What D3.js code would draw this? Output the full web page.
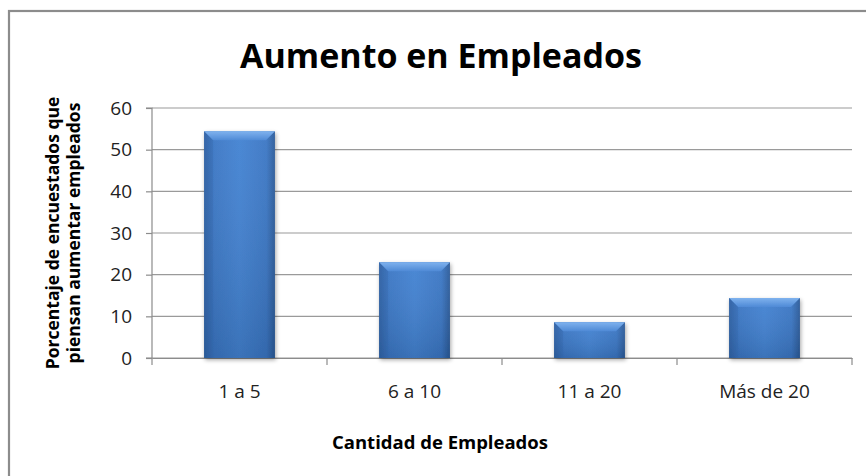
<!DOCTYPE html>
<html><head><meta charset="utf-8">
<script src="https://cdn.jsdelivr.net/npm/d3@7"></script>
<style>body{margin:0;background:#fff}svg{display:block}</style>
</head><body>
<script>
const categories = ["1 a 5", "6 a 10", "11 a 20", "Más de 20"];
const values = [54.4, 23.0, 8.6, 14.4];
const yTicks = [0, 10, 20, 30, 40, 50, 60];
const title = "Aumento en Empleados";
const xTitle = "Cantidad de Empleados";
const yTitle = ["Porcentaje de encuestados que", "piensan aumentar empleados"];

const W = 866, H = 476;
const m = {left: 152, right: 14, top: 108, bottom: 118};
const svg = d3.select("body").append("svg").attr("width", W).attr("height", H);
const defs = svg.append("defs");
const g1 = defs.append("linearGradient").attr("id","gb").attr("x1","0").attr("x2","1").attr("y1","0").attr("y2","0");
g1.append("stop").attr("offset","0%").attr("stop-color","#2f62a6");
g1.append("stop").attr("offset","12%").attr("stop-color","#3a76c4");
g1.append("stop").attr("offset","50%").attr("stop-color","#4282d2");
g1.append("stop").attr("offset","88%").attr("stop-color","#3a76c4");
g1.append("stop").attr("offset","100%").attr("stop-color","#2a5a99");
const g2 = defs.append("linearGradient").attr("id","gv").attr("x1","0").attr("x2","0").attr("y1","0").attr("y2","1");
g2.append("stop").attr("offset","0%").attr("stop-color","#ffffff").attr("stop-opacity",0.05);
g2.append("stop").attr("offset","100%").attr("stop-color","#000000").attr("stop-opacity",0.12);
const g3 = defs.append("linearGradient").attr("id","gt").attr("x1","0").attr("x2","0").attr("y1","0").attr("y2","1");
g3.append("stop").attr("offset","0%").attr("stop-color","#7fb2ee");
g3.append("stop").attr("offset","100%").attr("stop-color","#4f8ad6");
const f = defs.append("filter").attr("id","sh").attr("x","-20%").attr("y","-20%").attr("width","140%").attr("height","140%");
f.append("feGaussianBlur").attr("in","SourceAlpha").attr("stdDeviation",2);
f.append("feOffset").attr("dx",1).attr("dy",2).attr("result","b");
f.append("feComponentTransfer").append("feFuncA").attr("type","linear").attr("slope",0.35);
const fm = f.append("feMerge"); fm.append("feMergeNode"); fm.append("feMergeNode").attr("in","SourceGraphic");

// chart border
svg.append("rect").attr("x",9).attr("y",11).attr("width",W+20).attr("height",H+20)
  .attr("fill","#fff").attr("stroke","#8c8c8c").attr("stroke-width",2.2);

const x = d3.scaleBand().domain(categories).range([m.left, W - m.right]).paddingInner(0.595).paddingOuter(0.2975);
const xT = d3.scaleBand().domain(categories).range([m.left, W - m.right]);
const y = d3.scaleLinear().domain([0, 60]).range([H - m.bottom, m.top]);

// gridlines
svg.append("g").selectAll("line").data(yTicks).join("line")
  .attr("x1", m.left).attr("x2", W - m.right)
  .attr("y1", d => y(d)).attr("y2", d => y(d))
  .attr("stroke", "#9a9a9a").attr("stroke-width", 1.2);

// y axis
const ya = svg.append("g").attr("transform", `translate(${m.left},0)`)
  .call(d3.axisLeft(y).tickValues(yTicks).tickSize(6).tickPadding(14));
ya.select(".domain").attr("stroke","#8c8c8c").attr("stroke-width",1.2).attr("d", `M-6,${y(0)}H0V${y(60)}H-6`);
ya.selectAll(".tick line").attr("stroke","#8c8c8c").attr("stroke-width",1.2);
ya.selectAll("text").attr("font-family","'Open Sans', sans-serif").attr("font-size",19).attr("fill","#222");

// x axis
const xa = svg.append("g").attr("transform", `translate(0,${y(0)})`)
  .call(d3.axisBottom(xT).tickSize(0).tickPadding(27));
xa.select(".domain").attr("stroke","#8c8c8c").attr("stroke-width",1.2);
xa.selectAll("text").attr("font-family","'Open Sans', sans-serif").attr("font-size",19).attr("fill","#222");
svg.append("g").selectAll("line").data(d3.range(categories.length + 1)).join("line")
  .attr("x1", i => m.left + i * xT.step()).attr("x2", i => m.left + i * xT.step())
  .attr("y1", y(0)).attr("y2", y(0) + 7).attr("stroke","#8c8c8c").attr("stroke-width",1.2);

// bars
const bars = svg.append("g").selectAll("g").data(values).join("g")
  .attr("filter","url(#sh)");
bars.append("rect")
  .attr("x", (d,i) => x(categories[i])).attr("width", x.bandwidth())
  .attr("y", d => y(d)).attr("height", d => y(0) - y(d))
  .attr("fill","url(#gb)");
bars.append("rect")
  .attr("x", (d,i) => x(categories[i])).attr("width", x.bandwidth())
  .attr("y", d => y(d)).attr("height", d => y(0) - y(d))
  .attr("fill","url(#gv)");
bars.append("path")
  .attr("d", (d,i) => {
    const x0 = x(categories[i]), w = x.bandwidth(), t = y(d), b = 9;
    return `M${x0},${t}H${x0+w}L${x0+w-b},${t+b}H${x0+b}Z`;
  }).attr("fill","url(#gt)");
bars.append("path")
  .attr("d", (d,i) => {
    const x0 = x(categories[i]), w = x.bandwidth(), t = y(d), b = 9;
    return `M${x0},${t}L${x0+b},${t+b}V${y(0)}H${x0}Z`;
  }).attr("fill","#2d5fa3").attr("opacity",0.3);

// titles
svg.append("text").attr("x", 441).attr("y", 68).attr("text-anchor","middle")
  .attr("font-family","'Open Sans', sans-serif").attr("font-weight","bold").attr("font-size",34)
  .attr("fill","#000").text(title);
svg.append("text").attr("x", 440).attr("y", 449).attr("text-anchor","middle")
  .attr("font-family","'Open Sans', sans-serif").attr("font-weight","bold").attr("font-size",18.5)
  .attr("fill","#000").text(xTitle);
const yt = svg.append("text").attr("transform","translate(0,233) rotate(-90)")
  .attr("text-anchor","middle").attr("font-family","'Open Sans', sans-serif")
  .attr("font-weight","bold").attr("font-size",17.5).attr("fill","#000");
yt.selectAll("tspan").data(yTitle).join("tspan").attr("x",0).attr("y",(d,i) => 59 + i*21).text(d => d);
</script>
</body></html>
